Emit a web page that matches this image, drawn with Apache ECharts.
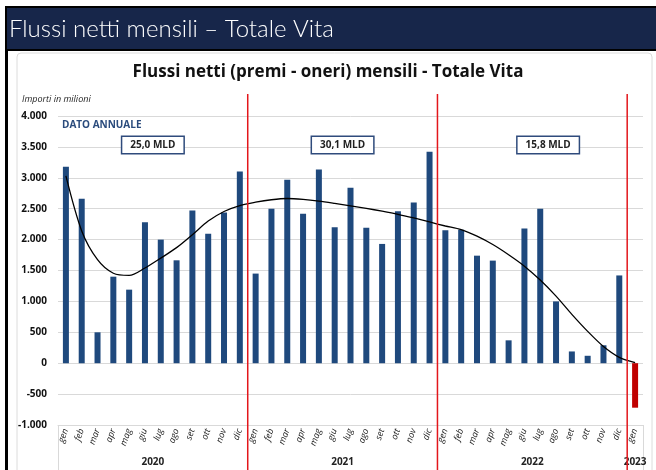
<!DOCTYPE html>
<html>
<head>
<meta charset="utf-8">
<script src="https://cdn.jsdelivr.net/npm/echarts@6/dist/echarts.min.js"></script>
<style>
html,body{margin:0;padding:0;background:#fff}
#main{width:656px;height:470px}
</style>
</head>
<body>
<div id="main"></div>
<script>
// dati (milioni di euro)
var mesi = ['gen','feb','mar','apr','mag','giu','lug','ago','set','ott','nov','dic'];
var anni = ['2020','2021','2022','2023'];
var mesiPerAnno = [12, 12, 12, 1];
var flussi2020 = [3180, 2660, 500, 1400, 1190, 2280, 2000, 1665, 2470, 2095, 2440, 3100];
var flussi2021 = [1450, 2500, 2970, 2420, 3135, 2200, 2840, 2190, 1930, 2460, 2600, 3420];
var flussi2022 = [2150, 2160, 1740, 1660, 370, 2180, 2500, 1000, 190, 120, 290, 1420];
var flussi2023 = [-720];
var trend2020 = [3030, 2140, 1675, 1455, 1420, 1540, 1700, 1870, 2080, 2300, 2455, 2550];
var trend2021 = [2605, 2645, 2665, 2650, 2622, 2585, 2545, 2505, 2460, 2410, 2350, 2285];
var trend2022 = [2220, 2160, 2055, 1920, 1755, 1570, 1345, 1085, 790, 515, 270, 95];
var trend2023 = [10];
var datoAnnuale = ['25,0 MLD', '30,1 MLD', '15,8 MLD'];

var categorie = [];
mesiPerAnno.forEach(function (n) {
    for (var i = 0; i < n; i++) categorie.push(mesi[i]);
});
var flussi = flussi2020.concat(flussi2021, flussi2022, flussi2023);
var trend = trend2020.concat(trend2021, trend2022, trend2023);

// confini e centri dei gruppi anno
var confini = [0], centri = [];
mesiPerAnno.forEach(function (n, i) {
    centri.push(confini[i] + n / 2);
    confini.push(confini[i] + n);
});

function migliaia(v) {
    var s = String(Math.abs(v));
    s = s.replace(/\B(?=(\d{3})+(?!\d))/g, '.');
    return (v < 0 ? '-' : '') + s;
}

var font = '"Open Sans", "Liberation Sans", sans-serif';
var blu = '#1f497d';

var myChart = echarts.init(document.getElementById('main'));
var option = {
    backgroundColor: '#fff',
    animation: false,
    title: [{
        text: 'Flussi netti (premi - oneri) mensili - Totale Vita',
        left: 'center',
        top: 59,
        textStyle: {fontFamily: font, fontWeight: 'bold', fontSize: 17, color: '#111'}
    }, {
        text: 'Importi in milioni',
        left: 17,
        top: 90,
        textStyle: {fontFamily: font, fontStyle: 'italic', fontWeight: 'normal', fontSize: 9, color: '#222'}
    }, {
        text: 'DATO ANNUALE',
        left: 57,
        top: 115,
        textStyle: {fontFamily: font, fontWeight: 'bold', fontSize: 10, color: '#2a4b7c'}
    }],
    grid: {left: 58, right: 13, top: 116, bottom: 45},
    xAxis: [{
        type: 'category',
        data: categorie,
        position: 'bottom',
        axisLine: {onZero: false, lineStyle: {color: '#d9d9d9'}},
        axisTick: {show: false},
        axisLabel: {
            interval: 0, rotate: 70, margin: 4,
            fontFamily: font, fontStyle: 'italic', fontSize: 9, color: '#222'
        }
    }, {
        type: 'value',
        min: 0,
        max: confini[confini.length - 1],
        position: 'bottom',
        axisLine: {show: false, onZero: false},
        splitLine: {show: false},
        axisTick: {
            show: true, customValues: confini, length: 46,
            lineStyle: {color: '#d9d9d9', width: 1}
        },
        axisLabel: {
            customValues: centri,
            margin: 32,
            fontFamily: font, fontWeight: 'bold', fontSize: 10, color: '#222',
            formatter: function (v) {
                var i = centri.indexOf(v);
                return i >= 0 ? anni[i] : '';
            }
        }
    }],
    yAxis: {
        type: 'value',
        min: -1000,
        max: 4000,
        interval: 500,
        axisLine: {show: false},
        axisTick: {show: false},
        splitLine: {lineStyle: {color: '#d9d9d9', width: 1}},
        axisLabel: {
            margin: 11,
            fontFamily: font, fontWeight: 'bold', fontSize: 10, color: '#111',
            formatter: migliaia
        }
    },
    series: [{
        name: 'Flussi netti',
        type: 'bar',
        data: flussi,
        barWidth: 6,
        itemStyle: {
            color: function (p) { return p.value < 0 ? '#c00000' : blu; }
        }
    }, {
        name: 'Tendenza',
        type: 'line',
        data: trend,
        smooth: 0.3,
        symbol: 'none',
        lineStyle: {color: '#000', width: 1.3},
        z: 3
    }]
};
myChart.setOption(option);

// cornice, banda del titolo, linee rosse e riquadri annuali
var grafica = [
    {type: 'rect', shape: {x: 17, y: 53, width: 635, height: 430, r: 4},
        style: {fill: 'none', stroke: '#dcdcdc', lineWidth: 1}, z: -1, silent: true},
    {type: 'rect', shape: {x: 5, y: 6, width: 3, height: 464},
        style: {fill: '#000'}, silent: true},
    {type: 'rect', shape: {x: 6, y: 7, width: 660, height: 43},
        style: {fill: '#17264a', stroke: '#000', lineWidth: 2}, silent: true},
    {type: 'text', x: 9, y: 29, silent: true,
        style: {text: 'Flussi netti mensili \u2013 Totale Vita', fill: '#fff',
            font: '300 24px Lato, "Noto Sans", sans-serif', verticalAlign: 'middle'}}
];
confini.slice(1, confini.length - 1).forEach(function (c) {
    var x = myChart.convertToPixel({xAxisIndex: 1}, c);
    grafica.push({type: 'line', silent: true, z: 5,
        shape: {x1: x, y1: 94, x2: x, y2: 470},
        style: {stroke: '#e3161b', lineWidth: 1.5}});
});
var spostamento = [0, 0, 1];
datoAnnuale.forEach(function (t, i) {
    var x = myChart.convertToPixel({xAxisIndex: 1}, centri[i] + spostamento[i]);
    grafica.push({type: 'text', x: x, y: 145, silent: true, z: 6,
        style: {text: t, fill: '#222', font: 'bold 10px ' + font,
            align: 'center', verticalAlign: 'middle',
            backgroundColor: '#fff', borderColor: '#2f4b7c', borderWidth: 1.5,
            padding: [3, 8, 3, 8]}});
});
myChart.setOption({graphic: grafica});
</script>
</body>
</html>
